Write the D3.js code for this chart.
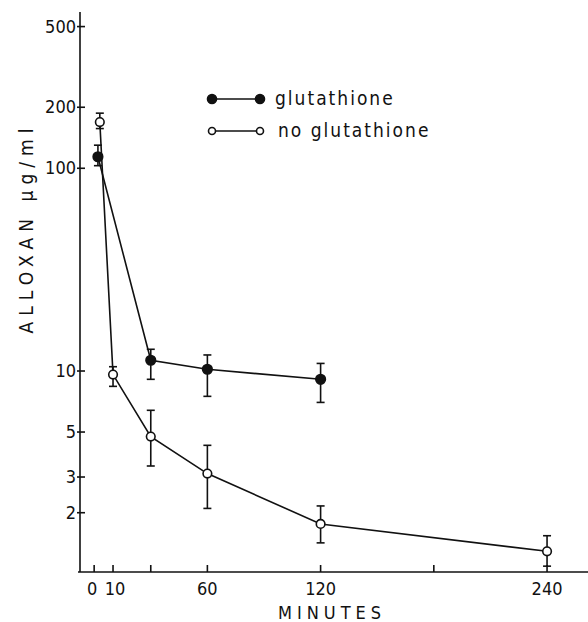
<!DOCTYPE html>
<html lang="en">
<head>
<meta charset="UTF-8">
<title>Alloxan vs minutes</title>
<script src="https://d3js.org/d3.v7.min.js"></script>
<style>
  body { margin: 0; background: #fff; }
  text { font-family: "DejaVu Sans Condensed", "DejaVu Sans", sans-serif; fill: #111; }
</style>
</head>
<body>
<svg width="588" height="622"></svg>
<script>
// data (minutes, alloxan µg/ml, error low, error high)
const withGsh = [
  { t: 2, v: 114, lo: 103, hi: 130 },
  { t: 30, v: 11.3, lo: 9.1, hi: 12.8 },
  { t: 60, v: 10.2, lo: 7.5, hi: 12.0 },
  { t: 120, v: 9.1, lo: 7.0, hi: 10.9 }
];
const noGsh = [
  { t: 3, v: 169, lo: 157, hi: 187 },
  { t: 10, v: 9.6, lo: 8.4, hi: 10.5 },
  { t: 30, v: 4.75, lo: 3.4, hi: 6.4 },
  { t: 60, v: 3.12, lo: 2.1, hi: 4.3 },
  { t: 120, v: 1.76, lo: 1.42, hi: 2.16 },
  { t: 240, v: 1.29, lo: 1.09, hi: 1.54 }
];
const xTicks = [0, 10, 30, 60, 120, 180, 240];
const xLabels = [0, 10, 60, 120, 240];
const yTicks = [2, 3, 5, 10, 100, 200, 500];

const svg = d3.select("svg");

const x = d3.scaleLinear().domain([-7.5, 261.7]).range([80, 588]);
const y = d3.scaleLog().domain([1.02, 590]).range([572, 12]);

// axes
const g = svg.append("g").attr("stroke", "#111").attr("stroke-width", 1.6);
g.append("line").attr("x1", 80).attr("x2", 80).attr("y1", y(590)).attr("y2", 572);
g.append("line").attr("x1", 78).attr("x2", 588).attr("y1", 572).attr("y2", 572);

g.selectAll(".yt").data(yTicks).join("line")
  .attr("x1", 77).attr("x2", 85)
  .attr("y1", d => y(d)).attr("y2", d => y(d));
g.selectAll(".xt").data(xTicks).join("line")
  .attr("x1", d => x(d)).attr("x2", d => x(d))
  .attr("y1", 572).attr("y2", 565);

svg.selectAll(".yl").data(yTicks).join("text")
  .attr("x", 76).attr("y", d => y(d) + 6)
  .attr("text-anchor", "end").attr("font-size", 18)
  .text(d => d);
svg.selectAll(".xl").data(xLabels).join("text")
  .attr("x", d => x(d) + (d === 0 ? -2 : d === 10 ? 2 : 0)).attr("y", 595)
  .attr("text-anchor", "middle").attr("font-size", 18)
  .text(d => d);

svg.append("text")
  .attr("x", 332).attr("y", 619)
  .attr("text-anchor", "middle").attr("font-size", 18)
  .attr("letter-spacing", 5)
  .text("MINUTES");

svg.append("text")
  .attr("transform", "translate(33,228) rotate(-90)")
  .attr("text-anchor", "middle").attr("font-size", 19)
  .attr("letter-spacing", 6)
  .text("ALLOXAN μg/ml");

// series
const line = d3.line().x(d => x(d.t)).y(d => y(d.v));

function drawSeries(data, filled) {
  const s = svg.append("g");
  s.append("path").datum(data).attr("d", line)
    .attr("fill", "none").attr("stroke", "#111").attr("stroke-width", 1.6);
  const eb = s.selectAll(".eb").data(data).join("g").attr("stroke", "#111").attr("stroke-width", 1.6);
  eb.append("line").attr("x1", d => x(d.t)).attr("x2", d => x(d.t))
    .attr("y1", d => y(d.lo)).attr("y2", d => y(d.hi));
  eb.append("line").attr("x1", d => x(d.t) - 4).attr("x2", d => x(d.t) + 4)
    .attr("y1", d => y(d.lo)).attr("y2", d => y(d.lo));
  eb.append("line").attr("x1", d => x(d.t) - 4).attr("x2", d => x(d.t) + 4)
    .attr("y1", d => y(d.hi)).attr("y2", d => y(d.hi));
  s.selectAll("circle").data(data).join("circle")
    .attr("cx", d => x(d.t)).attr("cy", d => y(d.v))
    .attr("r", filled ? 4.8 : 4.3)
    .attr("fill", filled ? "#111" : "#fff")
    .attr("stroke", "#111").attr("stroke-width", 1.6);
}
drawSeries(noGsh, false);
drawSeries(withGsh, true);

// legend
const legend = [
  { label: "glutathione", filled: true, y: 99 },
  { label: "no glutathione", filled: false, y: 131 }
];
legend.forEach(l => {
  svg.append("line").attr("x1", 212).attr("x2", 260)
    .attr("y1", l.y).attr("y2", l.y)
    .attr("stroke", "#111").attr("stroke-width", 1.6);
  [212, 260].forEach(cx => {
    svg.append("circle").attr("cx", cx).attr("cy", l.y)
      .attr("r", l.filled ? 4.5 : 3.5)
      .attr("fill", l.filled ? "#111" : "#fff")
      .attr("stroke", "#111").attr("stroke-width", 1.6);
  });
  svg.append("text").attr("x", l.filled ? 275 : 278).attr("y", l.y + 6)
    .attr("font-size", 19).attr("letter-spacing", 2)
    .text(l.label);
});
</script>
</body>
</html>
